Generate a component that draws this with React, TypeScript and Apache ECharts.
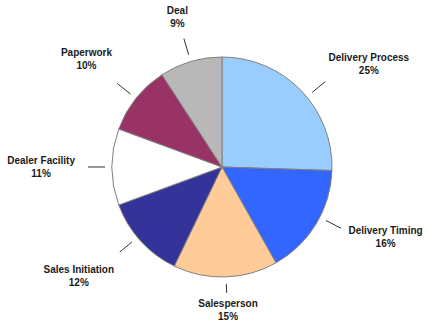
import React, { useEffect, useRef } from "react";
import * as echarts from "echarts";

const categories = [
  "Delivery Process",
  "Delivery Timing",
  "Salesperson",
  "Sales Initiation",
  "Dealer Facility",
  "Paperwork",
  "Deal",
];
const values = [25, 16, 15, 12, 11, 10, 9];
const colors = ["#99CCFF", "#3366FF", "#FFCC99", "#333399", "#FFFFFF", "#993366", "#B8B8B8"];

const PIE_R = 110;

export default function App() {
  const ref = useRef<HTMLDivElement>(null);
  useEffect(() => {
    if (!ref.current) return;
    const chart = echarts.init(ref.current, null, { renderer: "svg" });
    chart.setOption({
      animation: false,
      backgroundColor: "#ffffff",
      series: [
        {
          type: "pie",
          center: [222, 167],
          radius: PIE_R,
          startAngle: 90,
          clockwise: true,
          avoidLabelOverlap: false,
          data: categories.map((name, i) => ({
            name,
            value: values[i],
            itemStyle: { color: colors[i] },
          })),
          itemStyle: { borderColor: "#808080", borderWidth: 1 },
          label: {
            show: true,
            position: "outside",
            formatter: "{b}\n{c}%",
            fontFamily: "Liberation Sans, Arial, sans-serif",
            fontWeight: "bold",
            fontSize: 10,
            lineHeight: 13,
            color: "#1a1a1a",
            align: "center",
          },
          labelLine: {
            show: true,
            length: 20,
            length2: 0,
            lineStyle: { color: "#333333", width: 1 },
          },
          labelLayout: (params: any) => {
            const pts = params.labelLinePoints;
            if (!pts || pts.length < 2) return {};
            const p0 = pts[0];
            const p1 = pts[1];
            const dx = p1[0] - p0[0];
            const dy = p1[1] - p0[1];
            const len = Math.hypot(dx, dy) || 1;
            const ux = dx / len;
            const uy = dy / len;
            const cx = p0[0] - ux * PIE_R;
            const cy = p0[1] - uy * PIE_R;
            const theta = Math.atan2(ux, -uy);
            const c = ux > 0 ? 9 : uy > 0 ? 5 : 0;
            const shift = (c * Math.PI) / 180 * Math.sin(2 * theta);
            const tl = theta + shift * 0.5;
            const tb = theta + shift;
            const lx = Math.sin(tl);
            const ly = -Math.cos(tl);
            const bx = Math.sin(tb);
            const by = -Math.cos(tb);
            const bottom = Math.pow(Math.max(0, by), 4);
            const gap = 7;
            const L = 17 - 8 * bottom;
            const s = [cx + lx * (PIE_R + gap), cy + ly * (PIE_R + gap)];
            const e = [s[0] + lx * L, s[1] + ly * L];
            const w = params.labelRect.width;
            const h = params.labelRect.height;
            const extra = (ux < 0 ? 8 * Math.abs(bx) : 0) - 10 * bottom;
            const d =
              PIE_R + gap + 17 + 5 + extra + Math.abs(bx) * w / 2 + Math.abs(by) * h / 2;
            return {
              x: cx + bx * d,
              y: cy + by * d,
              align: "center",
              verticalAlign: "middle",
              labelLinePoints: [s, e, e],
            };
          },
        },
      ],
    });
    return () => chart.dispose();
  }, []);
  return (
    <div
      ref={ref}
      style={{ position: "fixed", left: 0, top: 0, width: 427, height: 335 }}
    />
  );
}
